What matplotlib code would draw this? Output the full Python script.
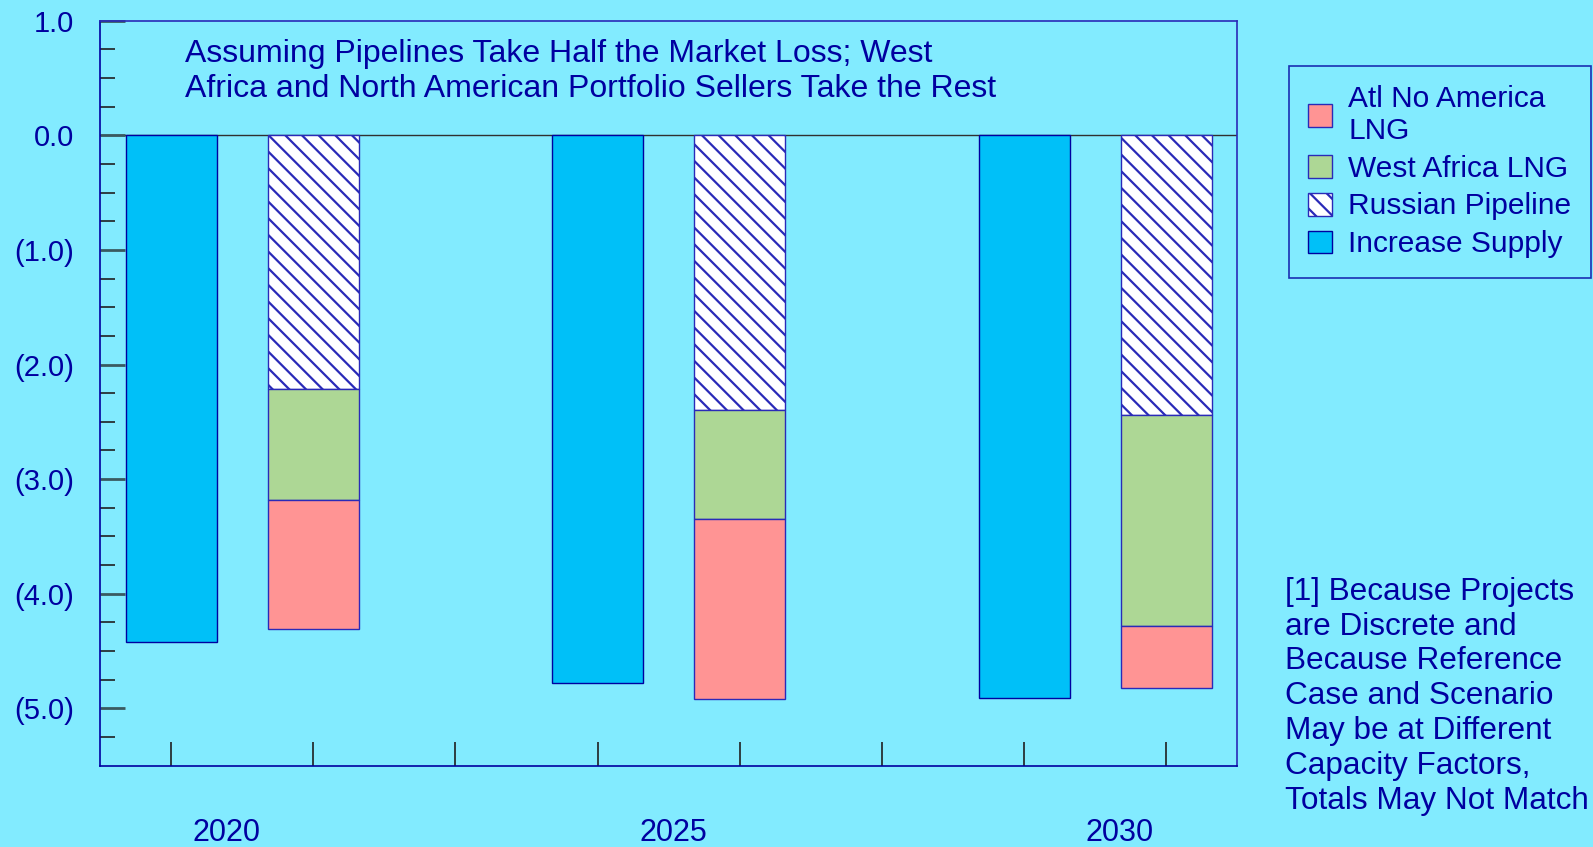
import numpy as np
import matplotlib
matplotlib.use("Agg")
import matplotlib.pyplot as plt

plt.rcParams['font.family'] = ['Liberation Sans', 'DejaVu Sans']
plt.rcParams['hatch.linewidth'] = 1.6

# data
years = ['2020', '2025', '2030']
increase_supply = [-4.42, -4.78, -4.91]
russian_pipeline = [-2.21, -2.40, -2.44]
west_africa_lng = [-0.97, -0.95, -1.84]
atl_no_america_lng = [-1.13, -1.57, -0.54]

bg = '#82EBFF'
navy = '#0000A0'
edge = '#2A2AB8'

fig = plt.figure(figsize=(15.93, 8.47), dpi=100, facecolor=bg)
ax = fig.add_axes([0.0628, 0.096, 0.714, 0.8796], facecolor=bg)

grp = np.arange(len(years)) * 3
w = 0.64

ax.bar(grp, increase_supply, w, color='#00C0F8', edgecolor=navy, linewidth=1,
       label='Increase Supply', zorder=2)
bottom = np.zeros(len(years))
ax.bar(grp + 1, russian_pipeline, w, bottom=bottom, color='white', edgecolor=edge,
       hatch='\\\\', linewidth=1, label='Russian Pipeline', zorder=2)
bottom += russian_pipeline
ax.bar(grp + 1, west_africa_lng, w, bottom=bottom, color='#ADD795', edgecolor=edge,
       linewidth=1, label='West Africa LNG', zorder=2)
bottom += west_africa_lng
ax.bar(grp + 1, atl_no_america_lng, w, bottom=bottom, color='#FF9494', edgecolor=edge,
       linewidth=1, label='Atl No America\nLNG', zorder=2)

ax.axhline(0, color='#303030', linewidth=1, zorder=1)

ax.set_xlim(-0.5, 7.5)
ax.set_ylim(-5.5, 1.0)

# y axis
ax.set_yticks(np.arange(-5, 1.01, 1.0))
ax.set_yticks(np.arange(-5.25, 1.0, 0.25), minor=True)
ax.set_yticklabels(['(5.0)', '(4.0)', '(3.0)', '(2.0)', '(1.0)', '0.0', '1.0'])
ax.tick_params(axis='y', which='major', direction='in', length=18, width=2,
               color='#3A5A60', labelsize=21, labelcolor=navy, pad=19)
ax.tick_params(axis='y', which='minor', direction='in', length=11, width=1.2,
               color='#202020')

# x axis: tick marks at each slot, year labels under each pair
ax.set_xticks(np.arange(0, 8))
ax.set_xticklabels([])
ax.set_xticks(np.array([0.39, 3.53, 6.67]), minor=True)
ax.set_xticklabels(years, minor=True)
ax.tick_params(axis='x', which='major', direction='in', length=17, width=1.2,
               color='#202020')
ax.tick_params(axis='x', which='minor', length=0, labelsize=22,
               labelcolor=navy, pad=38)

for s in ax.spines.values():
    s.set_color(edge)
    s.set_linewidth(1.2)
ax.spines['left'].set_color(navy)
ax.spines['bottom'].set_color(navy)

ax.text(0.075, 0.975,
        'Assuming Pipelines Take Half the Market Loss; West\n'
        'Africa and North American Portfolio Sellers Take the Rest',
        transform=ax.transAxes, ha='left', va='top', fontsize=23,
        color=navy, linespacing=1.2)

h, l = ax.get_legend_handles_labels()
leg = fig.legend(h[::-1], l[::-1], loc='upper left',
                 bbox_to_anchor=(0.809, 0.922), borderaxespad=0, fontsize=21.5,
                 frameon=True, fancybox=False, facecolor=bg, edgecolor=navy,
                 handlelength=0.8, handleheight=0.8, handletextpad=0.55,
                 labelspacing=0.33, borderpad=0.65, labelcolor=navy)
leg.get_frame().set_linewidth(1.2)
for t in leg.get_texts():
    t.set_linespacing(1.15)

fig.text(0.8067, 0.319,
         '[1] Because Projects\nare Discrete and\nBecause Reference\n'
         'Case and Scenario\nMay be at Different\nCapacity Factors,\n'
         'Totals May Not Match',
         ha='left', va='top', fontsize=22.7, color=navy, linespacing=1.21)

fig.savefig('out.png', dpi=100, facecolor=bg)
